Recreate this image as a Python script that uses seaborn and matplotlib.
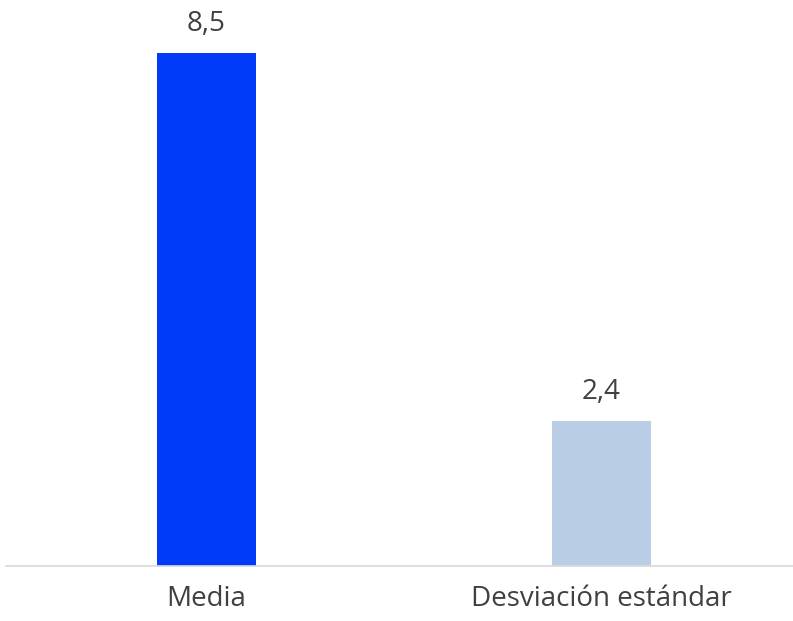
import seaborn as sns
import pandas as pd
import matplotlib.pyplot as plt

categorias = ['Media', 'Desviación estándar']
valores = [8.5, 2.4]
colores = ['#003CF8', '#B9CDE5']

df = pd.DataFrame({'cat': categorias, 'val': valores})

sns.set_style('white')
plt.rcParams['font.family'] = ['Open Sans', 'DejaVu Sans']

f = plt.figure(figsize=(7.93, 6.21), dpi=100)
ax = f.add_axes([6 / 793, 1 - 566 / 621, 787 / 793, 566 / 621])

sns.barplot(data=df, x='cat', y='val', hue='cat', palette=colores,
            width=0.2506, legend=False, ax=ax, saturation=1, linewidth=0)

ax.set_xlim(-0.5076, 1.4848)
ax.set_ylim(0, 9.38)

for i, v in enumerate(valores):
    ax.annotate(f'{v:.1f}'.replace('.', ','), (i, v), xytext=(0, 11),
                textcoords='offset points', ha='center', va='bottom',
                fontsize=20, color='#404040')

ax.set_xlabel('')
ax.set_ylabel('')
ax.set_yticks([])
ax.tick_params(axis='x', length=0, pad=14, labelsize=20, labelcolor='#404040')
for s in ['top', 'right', 'left']:
    ax.spines[s].set_visible(False)
ax.spines['bottom'].set_color('#D9D9D9')
ax.spines['bottom'].set_linewidth(1.2)

plt.savefig('out.png', dpi=100)
